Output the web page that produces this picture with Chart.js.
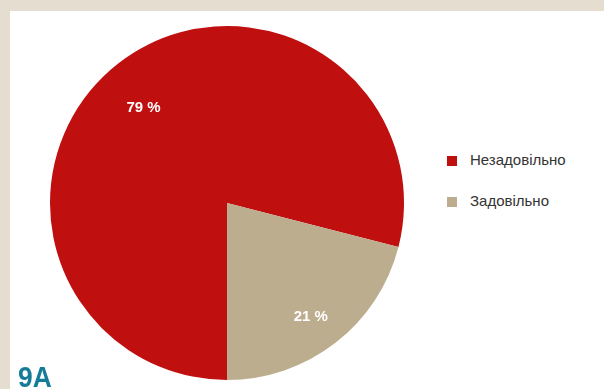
<!DOCTYPE html>
<html>
<head>
<meta charset="utf-8">
<script src="https://cdn.jsdelivr.net/npm/chart.js@4/dist/chart.umd.min.js"></script>
<style>
  html, body { margin: 0; padding: 0; }
  body { width: 604px; height: 389px; background: #e6ddd1; position: relative; overflow: hidden; font-family: "Liberation Sans", Arial, sans-serif; }
  #panel { position: absolute; left: 10px; top: 11px; width: 594px; height: 378px; background: #fff; }
  #wrap { position: absolute; left: 0; top: 0; width: 434px; height: 378px; }
  .leg { position: absolute; left: 437px; font-size: 15px; color: #333; line-height: 18px; }
  .leg i { display: inline-block; width: 10px; height: 10px; margin-right: 13px; vertical-align: -1px; }
  #tag { position: absolute; left: 8px; top: 349px; font-family: "Liberation Sans Narrow", "Arial Narrow", "Liberation Sans", sans-serif; font-weight: bold; font-size: 30px; color: #157c98; line-height: 34px; transform: scaleX(0.88); transform-origin: 0 0; }
</style>
</head>
<body>
<div id="panel">
  <div id="wrap"><canvas id="chart"></canvas></div>
  <div id="legend"></div>
  <div id="tag">9A</div>
</div>
<script>
// DATA
const labels = ["Незадовільно", "Задовільно"];
const values = [79, 21];
const colors = ["#c00f0f", "#bcad8e"];

// legend
const legend = document.getElementById("legend");
labels.forEach((l, i) => {
  const d = document.createElement("div");
  d.className = "leg";
  d.style.top = (140 + i * 41) + "px";
  d.innerHTML = `<i style="background:${colors[i]}"></i>${l}`;
  legend.appendChild(d);
});

// percent labels on slices
const pctLabels = {
  id: "pctLabels",
  afterDatasetsDraw(chart) {
    const ctx = chart.ctx;
    const meta = chart.getDatasetMeta(0);
    const factors = [0.715, 0.8];
    const shift = [-3.5, 1.5];
    ctx.save();
    ctx.fillStyle = "#fff";
    ctx.font = "bold 15px 'Liberation Sans', Arial, sans-serif";
    ctx.textAlign = "center";
    ctx.textBaseline = "middle";
    meta.data.forEach((arc, i) => {
      const p = arc.getProps(["x", "y", "startAngle", "endAngle", "outerRadius"], true);
      const a = (p.startAngle + p.endAngle) / 2 + shift[i] * Math.PI / 180;
      const r = p.outerRadius * factors[i];
      ctx.fillText(values[i] + " %", p.x + Math.cos(a) * r, p.y + Math.sin(a) * r);
    });
    ctx.restore();
  }
};

new Chart(document.getElementById("chart"), {
  type: "pie",
  data: {
    labels,
    datasets: [{
      data: values,
      backgroundColor: colors,
      borderWidth: 0
    }]
  },
  options: {
    responsive: true,
    maintainAspectRatio: false,
    animation: false,
    rotation: 180,
    layout: { padding: { top: 15, bottom: 9, left: 0, right: 0 } },
    plugins: {
      legend: { display: false },
      tooltip: { enabled: false }
    }
  },
  plugins: [pctLabels]
});
</script>
</body>
</html>
